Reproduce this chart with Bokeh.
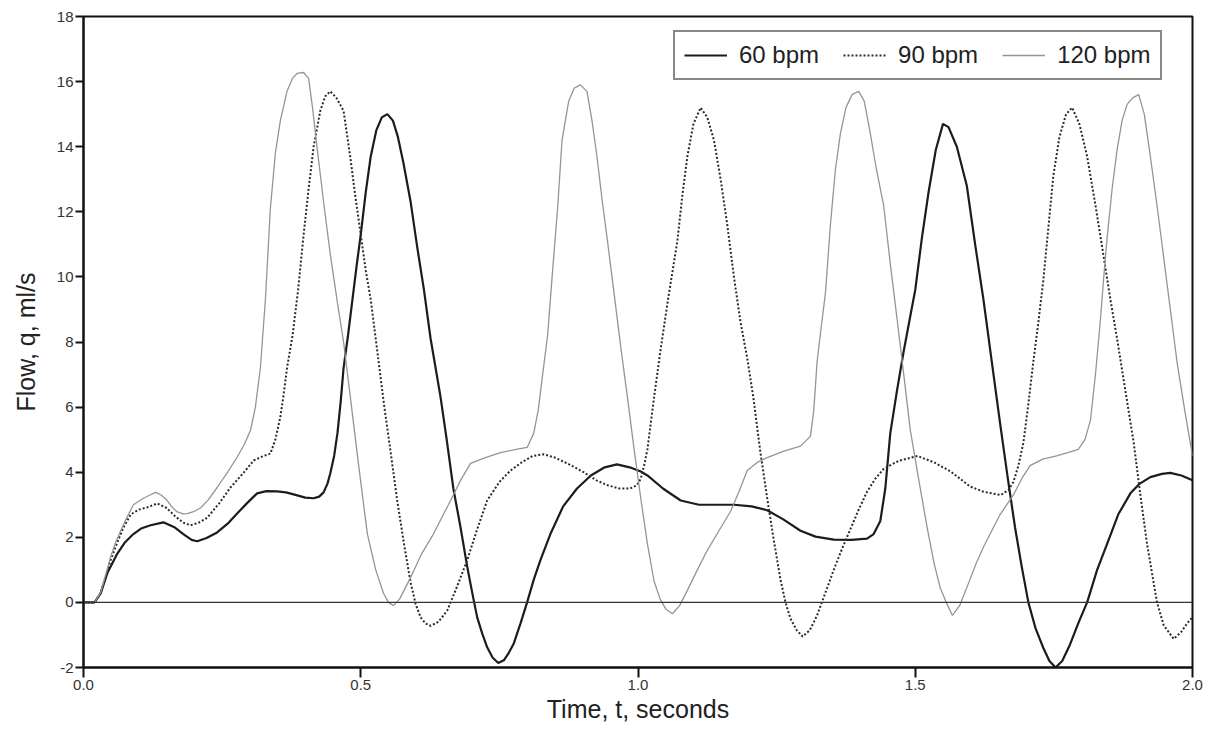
from bokeh.plotting import figure
from bokeh.models import Range1d, FixedTicker, Span, Legend, LegendItem
from bokeh.embed import file_html
from bokeh.resources import INLINE

# ---------------- data ----------------
t_60 = [0.000, 0.020, 0.031, 0.043, 0.061, 0.075, 0.090, 0.105, 0.121, 0.144, 0.165, 0.180,
        0.195, 0.205, 0.222, 0.241, 0.260, 0.277, 0.295, 0.313, 0.330, 0.349, 0.365, 0.379,
        0.400, 0.415, 0.425, 0.433, 0.440, 0.445, 0.452, 0.458, 0.464, 0.469, 0.477, 0.485,
        0.493, 0.500, 0.509, 0.518, 0.528, 0.538, 0.548, 0.558, 0.567, 0.577, 0.590, 0.602,
        0.614, 0.626, 0.635, 0.644, 0.655, 0.667, 0.680, 0.692, 0.701, 0.710, 0.719, 0.728,
        0.738, 0.748, 0.758, 0.767, 0.776, 0.788, 0.800, 0.812, 0.824, 0.842, 0.865, 0.890,
        0.915, 0.940, 0.962, 0.985, 1.005, 1.017, 1.045, 1.077, 1.110, 1.140, 1.173, 1.205,
        1.233, 1.262, 1.293, 1.320, 1.353, 1.385, 1.413, 1.425, 1.437, 1.446, 1.455, 1.467,
        1.479, 1.490, 1.500, 1.512, 1.524, 1.537, 1.550, 1.560, 1.575, 1.593, 1.608, 1.623,
        1.638, 1.653, 1.667, 1.680, 1.692, 1.704, 1.717, 1.731, 1.742, 1.753, 1.765, 1.779,
        1.795, 1.810, 1.828, 1.846, 1.866, 1.888, 1.905, 1.924, 1.945, 1.960, 1.980, 2.000]
q_60 = [0.00, 0.00, 0.28, 0.90, 1.50, 1.85, 2.10, 2.28, 2.37, 2.46, 2.30, 2.10,
        1.92, 1.88, 1.98, 2.15, 2.42, 2.73, 3.05, 3.35, 3.42, 3.41, 3.38, 3.32,
        3.22, 3.20, 3.25, 3.38, 3.65, 3.96, 4.50, 5.20, 6.20, 7.20, 8.20, 9.30,
        10.40, 11.30, 12.60, 13.70, 14.50, 14.90, 15.00, 14.80, 14.30, 13.50, 12.30, 10.90,
        9.60, 8.10, 7.20, 6.30, 5.00, 3.50, 2.30, 1.10, 0.30, -0.46, -0.95, -1.38,
        -1.70, -1.86, -1.78, -1.55, -1.26, -0.65, 0.00, 0.70, 1.30, 2.10, 2.95, 3.50,
        3.90, 4.15, 4.24, 4.15, 4.02, 3.90, 3.50, 3.13, 3.00, 3.00, 3.00, 2.95,
        2.83, 2.55, 2.20, 2.02, 1.93, 1.92, 1.96, 2.10, 2.50, 3.50, 5.20, 6.50,
        7.70, 8.70, 9.60, 11.20, 12.60, 13.90, 14.70, 14.60, 14.00, 12.80, 11.00, 9.30,
        7.40, 5.50, 3.80, 2.30, 1.10, 0.00, -0.80, -1.40, -1.80, -2.00, -1.80, -1.30,
        -0.60, 0.00, 1.00, 1.80, 2.70, 3.35, 3.65, 3.85, 3.95, 3.98, 3.90, 3.75]

t_90 = [0.000, 0.020, 0.031, 0.040, 0.049, 0.060, 0.072, 0.085, 0.100, 0.115, 0.133, 0.150,
        0.165, 0.180, 0.193, 0.208, 0.223, 0.245, 0.265, 0.287, 0.307, 0.322, 0.337, 0.346,
        0.355, 0.361, 0.367, 0.377, 0.387, 0.397, 0.406, 0.415, 0.427, 0.436, 0.445, 0.456,
        0.469, 0.481, 0.490, 0.500, 0.509, 0.518, 0.530, 0.541, 0.554, 0.566, 0.578, 0.590,
        0.599, 0.608, 0.617, 0.626, 0.640, 0.656, 0.674, 0.692, 0.710, 0.728, 0.750, 0.770,
        0.790, 0.810, 0.830, 0.850, 0.875, 0.902, 0.925, 0.945, 0.966, 0.986, 0.998, 1.005,
        1.011, 1.017, 1.023, 1.029, 1.041, 1.055, 1.071, 1.080, 1.089, 1.100, 1.113, 1.125,
        1.137, 1.149, 1.161, 1.173, 1.185, 1.197, 1.208, 1.220, 1.233, 1.245, 1.257, 1.266,
        1.275, 1.286, 1.297, 1.310, 1.323, 1.338, 1.353, 1.368, 1.383, 1.398, 1.413, 1.428,
        1.443, 1.470, 1.504, 1.534, 1.564, 1.599, 1.623, 1.654, 1.668, 1.677, 1.686, 1.695,
        1.704, 1.713, 1.722, 1.731, 1.740, 1.749, 1.760, 1.772, 1.783, 1.796, 1.810, 1.825,
        1.840, 1.852, 1.864, 1.879, 1.894, 1.906, 1.918, 1.927, 1.936, 1.948, 1.966, 1.980,
        1.990, 2.000]
q_90 = [0.00, 0.00, 0.30, 0.80, 1.30, 1.80, 2.30, 2.70, 2.85, 2.92, 3.04, 2.90,
        2.65, 2.45, 2.37, 2.45, 2.60, 3.05, 3.53, 3.95, 4.36, 4.48, 4.57, 5.00,
        5.70, 6.40, 7.20, 8.20, 9.60, 11.30, 12.70, 14.00, 15.10, 15.55, 15.70, 15.50,
        15.10, 13.70, 12.50, 11.30, 10.20, 9.30, 7.70, 6.20, 4.60, 3.10, 1.80, 0.60,
        -0.05, -0.46, -0.65, -0.72, -0.60, -0.25, 0.50, 1.30, 2.25, 3.13, 3.70, 4.05,
        4.30, 4.50, 4.55, 4.45, 4.25, 4.00, 3.75, 3.60, 3.50, 3.50, 3.60, 3.80,
        4.20, 4.70, 5.50, 6.30, 7.80, 9.40, 11.10, 12.50, 13.70, 14.70, 15.20, 14.90,
        14.20, 13.00, 11.60, 10.00, 8.60, 7.50, 6.30, 4.70, 3.20, 1.90, 0.70, 0.00,
        -0.50, -0.85, -1.05, -0.85, -0.40, 0.30, 1.00, 1.65, 2.25, 2.85, 3.40, 3.80,
        4.10, 4.35, 4.50, 4.30, 4.02, 3.56, 3.40, 3.30, 3.45, 3.70, 4.20, 4.90,
        6.10, 7.40, 8.60, 9.90, 11.50, 13.10, 14.30, 15.00, 15.20, 14.70, 13.70, 12.20,
        10.60, 9.30, 8.10, 6.50, 4.90, 3.30, 1.80, 0.90, 0.00, -0.70, -1.12, -0.90,
        -0.65, -0.45]

t_120 = [0.000, 0.020, 0.031, 0.040, 0.049, 0.058, 0.067, 0.078, 0.090, 0.108, 0.120, 0.130,
         0.140, 0.151, 0.160, 0.169, 0.180, 0.187, 0.200, 0.211, 0.225, 0.241, 0.260, 0.277,
         0.290, 0.301, 0.310, 0.319, 0.328, 0.337, 0.346, 0.355, 0.367, 0.377, 0.385, 0.397,
         0.406, 0.413, 0.421, 0.433, 0.445, 0.458, 0.469, 0.482, 0.497, 0.512, 0.527, 0.541,
         0.550, 0.559, 0.570, 0.590, 0.610, 0.631, 0.646, 0.662, 0.680, 0.698, 0.725, 0.752,
         0.780, 0.800, 0.812, 0.820, 0.828, 0.837, 0.846, 0.855, 0.863, 0.875, 0.885, 0.896,
         0.908, 0.917, 0.926, 0.935, 0.945, 0.959, 0.970, 0.981, 0.993, 1.005, 1.017, 1.029,
         1.040, 1.050, 1.062, 1.075, 1.089, 1.107, 1.125, 1.146, 1.167, 1.182, 1.197, 1.215,
         1.233, 1.263, 1.293, 1.311, 1.317, 1.323, 1.330, 1.338, 1.347, 1.356, 1.365, 1.375,
         1.386, 1.398, 1.408, 1.418, 1.430, 1.443, 1.455, 1.468, 1.480, 1.491, 1.507, 1.522,
         1.534, 1.545, 1.556, 1.567, 1.580, 1.594, 1.610, 1.623, 1.638, 1.653, 1.677, 1.692,
         1.707, 1.730, 1.755, 1.775, 1.794, 1.806, 1.816, 1.825, 1.834, 1.840, 1.846, 1.855,
         1.864, 1.873, 1.882, 1.892, 1.903, 1.913, 1.924, 1.936, 1.948, 1.960, 1.972, 1.986,
         2.000]
q_120 = [0.00, 0.00, 0.30, 0.85, 1.40, 1.85, 2.20, 2.60, 3.00, 3.20, 3.30, 3.38,
         3.30, 3.13, 2.92, 2.78, 2.72, 2.73, 2.80, 2.90, 3.15, 3.53, 4.00, 4.46,
         4.85, 5.28, 6.00, 7.20, 9.30, 12.10, 13.80, 14.80, 15.70, 16.10, 16.25, 16.28,
         16.10, 15.20, 14.00, 12.30, 10.70, 9.20, 8.00, 6.20, 4.10, 2.10, 1.00, 0.28,
         0.00, -0.10, 0.10, 0.77, 1.50, 2.10, 2.60, 3.13, 3.75, 4.27, 4.45, 4.60,
         4.70, 4.76, 5.20, 5.90, 7.00, 8.20, 10.20, 12.10, 14.20, 15.40, 15.80, 15.90,
         15.70, 14.80, 13.70, 12.40, 11.10, 9.20, 7.70, 6.30, 4.70, 3.20, 1.80, 0.65,
         0.10, -0.20, -0.35, -0.10, 0.37, 1.00, 1.60, 2.20, 2.80, 3.40, 4.05, 4.30,
         4.45, 4.65, 4.80, 5.10, 5.90, 7.40, 8.40, 9.50, 11.60, 13.30, 14.40, 15.20,
         15.60, 15.70, 15.40, 14.50, 13.30, 12.20, 10.40, 8.60, 6.90, 5.30, 3.70, 2.25,
         1.20, 0.45, 0.00, -0.40, -0.10, 0.50, 1.20, 1.70, 2.20, 2.70, 3.30, 3.80,
         4.20, 4.40, 4.50, 4.60, 4.70, 5.00, 5.60, 7.00, 8.70, 10.00, 11.20, 12.70,
         13.90, 14.80, 15.30, 15.50, 15.60, 15.00, 13.70, 12.20, 10.60, 9.00, 7.40, 5.90,
         4.50]

series_labels = ["60 bpm", "90 bpm", "120 bpm"]
x_ticks = [0.0, 0.5, 1.0, 1.5, 2.0]
x_tick_labels = ["0.0", "0.5", "1.0", "1.5", "2.0"]
y_ticks = [-2, 0, 2, 4, 6, 8, 10, 12, 14, 16, 18]
y_tick_labels = ["-2", "0", "2", "4", "6", "8", "10", "12", "14", "16", "18"]

FONT = "Liberation Sans"

p = figure(width=1215, height=732, output_backend="svg", toolbar_location=None,
           x_range=Range1d(0, 2.0), y_range=Range1d(-2, 18),
           min_border_left=83, min_border_right=23, min_border_top=16, min_border_bottom=65)
p.grid.visible = False
p.background_fill_color = "white"
p.border_fill_color = "white"
p.outline_line_color = "#111111"
p.outline_line_width = 2

# zero reference line
p.add_layout(Span(location=0, dimension="width", line_color="#333333", line_width=1.3))

r60 = p.line(t_60, q_60, line_color="#1c1c1c", line_width=2.2)
r90 = p.line(t_90, q_90, line_color="#2a2a2a", line_width=2.0, line_dash="2 2")
r120 = p.line(t_120, q_120, line_color="#959595", line_width=1.3)

# axes
p.xaxis.ticker = FixedTicker(ticks=x_ticks)
p.xaxis.major_label_overrides = {v: s for v, s in zip(x_ticks, x_tick_labels)}
p.yaxis.ticker = FixedTicker(ticks=y_ticks)
p.yaxis.major_label_overrides = {v: s for v, s in zip(y_ticks, y_tick_labels)}
for ax in (p.xaxis[0], p.yaxis[0]):
    ax.axis_line_color = "#111111"
    ax.axis_line_width = 2
    ax.major_tick_line_color = "#111111"
    ax.major_tick_line_width = 2
    ax.major_tick_in = 0
    ax.minor_tick_line_color = None
    ax.major_label_text_font = FONT
    ax.major_label_text_font_size = "15px"
    ax.major_label_text_color = "#333333"
    ax.axis_label_text_font = FONT
    ax.axis_label_text_font_size = "25px"
    ax.axis_label_text_font_style = "normal"
    ax.axis_label_text_color = "#222222"

p.xaxis.major_tick_out = 10
p.xaxis.major_label_standoff = 2
p.xaxis.axis_label = "Time, t, seconds"
p.xaxis.axis_label_standoff = 2
p.yaxis.major_tick_out = 8
p.yaxis.major_label_standoff = 2
p.yaxis.axis_label = "Flow, q, ml/s"
p.yaxis.axis_label_standoff = 14

legend = Legend(items=[LegendItem(label=series_labels[0], renderers=[r60]),
                       LegendItem(label=series_labels[1], renderers=[r90]),
                       LegendItem(label=series_labels[2], renderers=[r120])],
                orientation="horizontal", location=(590, 587), margin=0,
                padding=9, spacing=24, glyph_width=43, glyph_height=24,
                label_height=24, label_standoff=12,
                label_text_font=FONT, label_text_font_size="24px",
                label_text_color="#222222",
                border_line_color="#111111", border_line_width=2,
                background_fill_color="white", background_fill_alpha=1.0)
p.add_layout(legend, "center")

open("out.html", "w").write(file_html(p, INLINE))
